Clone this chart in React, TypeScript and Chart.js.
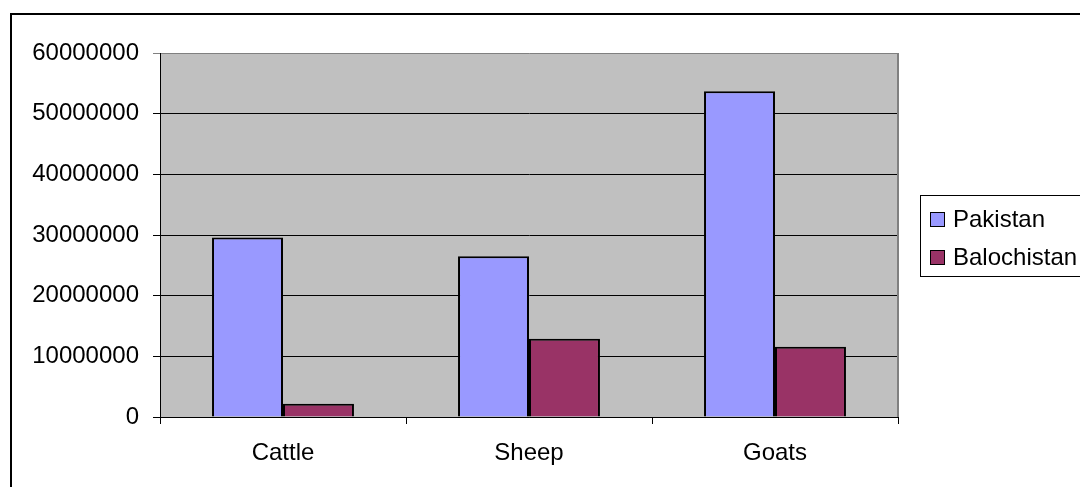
import React, { useEffect, useRef } from "react";
import { Chart, registerables } from "chart.js";

Chart.register(...registerables);

const categories = ["Cattle", "Sheep", "Goats"];
const pakistan = [29600000, 26500000, 53700000];
const balochistan = [2200000, 12900000, 11600000];
const seriesNames = ["Pakistan", "Balochistan"];
const seriesColors = ["#9999FF", "#993366"];
const yMax = 60000000;
const yStep = 10000000;

const FONT = "'Liberation Sans', Arial, sans-serif";

const plotDecor = {
  id: "plotDecor",
  beforeDraw(chart: any) {
    const { ctx, chartArea } = chart;
    ctx.save();
    ctx.fillStyle = "#C0C0C0";
    ctx.fillRect(chartArea.left, chartArea.top, chartArea.right - chartArea.left, chartArea.bottom - chartArea.top);
    ctx.restore();
  },
  afterDraw(chart: any) {
    const { ctx, chartArea } = chart;
    ctx.save();
    ctx.strokeStyle = "#808080";
    ctx.lineWidth = 2;
    ctx.beginPath();
    ctx.moveTo(chartArea.right, chartArea.top);
    ctx.lineTo(chartArea.right, chartArea.bottom);
    ctx.stroke();
    // legend
    const lx = 920.5, ly = 195.5, lw = 200, lh = 81;
    ctx.strokeStyle = "#000";
    ctx.lineWidth = 1;
    ctx.strokeRect(lx, ly, lw, lh);
    ctx.font = `24px ${FONT}`;
    ctx.textBaseline = "middle";
    ctx.textAlign = "left";
    const rows = [219, 257];
    chart.data.datasets.forEach((ds: any, i: number) => {
      const cy = rows[i];
      ctx.fillStyle = ds.backgroundColor;
      ctx.fillRect(930, cy - 7, 14, 14);
      ctx.strokeStyle = "#000";
      ctx.strokeRect(930.5, cy - 6.5, 14, 14);
      ctx.fillStyle = "#000";
      ctx.fillText(ds.label, 953, cy + 1);
    });
    ctx.restore();
  },
};

export default function App() {
  const ref = useRef<HTMLCanvasElement | null>(null);
  useEffect(() => {
    if (!ref.current) return;
    const chart = new Chart(ref.current, {
      type: "bar",
      data: {
        labels: categories,
        datasets: [
          { label: seriesNames[0], data: pakistan, backgroundColor: seriesColors[0], borderColor: "#000", borderWidth: 2 },
          { label: seriesNames[1], data: balochistan, backgroundColor: seriesColors[1], borderColor: "#000", borderWidth: 2 },
        ],
      },
      options: {
        responsive: false,
        animation: false,
        devicePixelRatio: 1,
        layout: { padding: { left: 0, top: 53, right: 182, bottom: 0 } },
        plugins: { legend: { display: false }, tooltip: { enabled: false } },
        datasets: { bar: { barPercentage: 1, categoryPercentage: 0.577 } },
        scales: {
          x: {
            offset: true,
            grid: { display: true, drawOnChartArea: false, drawTicks: true, tickLength: 7, color: "#000", offset: true },
            border: { display: true, color: "#000", width: 1 },
            ticks: { color: "#000", font: { family: FONT, size: 24 }, padding: 15, maxRotation: 0 },
            afterFit: (s: any) => { s.height = 70; },
          },
          y: {
            min: 0,
            max: yMax,
            ticks: {
              stepSize: yStep,
              color: "#000",
              font: { family: FONT, size: 24 },
              padding: 14,
              callback: (v: any) => String(v),
            },
            grid: {
              color: (c: any) => (c.tick && c.tick.value === yMax ? "#808080" : "#000"),
              lineWidth: 1,
              tickLength: 7,
            },
            border: { display: true, color: "#000", width: 1 },
            afterFit: (s: any) => { s.width = 160; },
          },
        },
      },
      plugins: [plotDecor],
    });
    return () => chart.destroy();
  }, []);
  return (
    <div style={{ position: "fixed", left: 0, top: 0, width: 1080, height: 487, overflow: "hidden", background: "#fff" }}>
      <canvas ref={ref} width={1080} height={487} style={{ position: "absolute", left: 0, top: 0, width: 1080, height: 487 }} />
      <div style={{ position: "absolute", left: 10, top: 13, width: 1200, height: 600, border: "2px solid #000", pointerEvents: "none" }} />
    </div>
  );
}
